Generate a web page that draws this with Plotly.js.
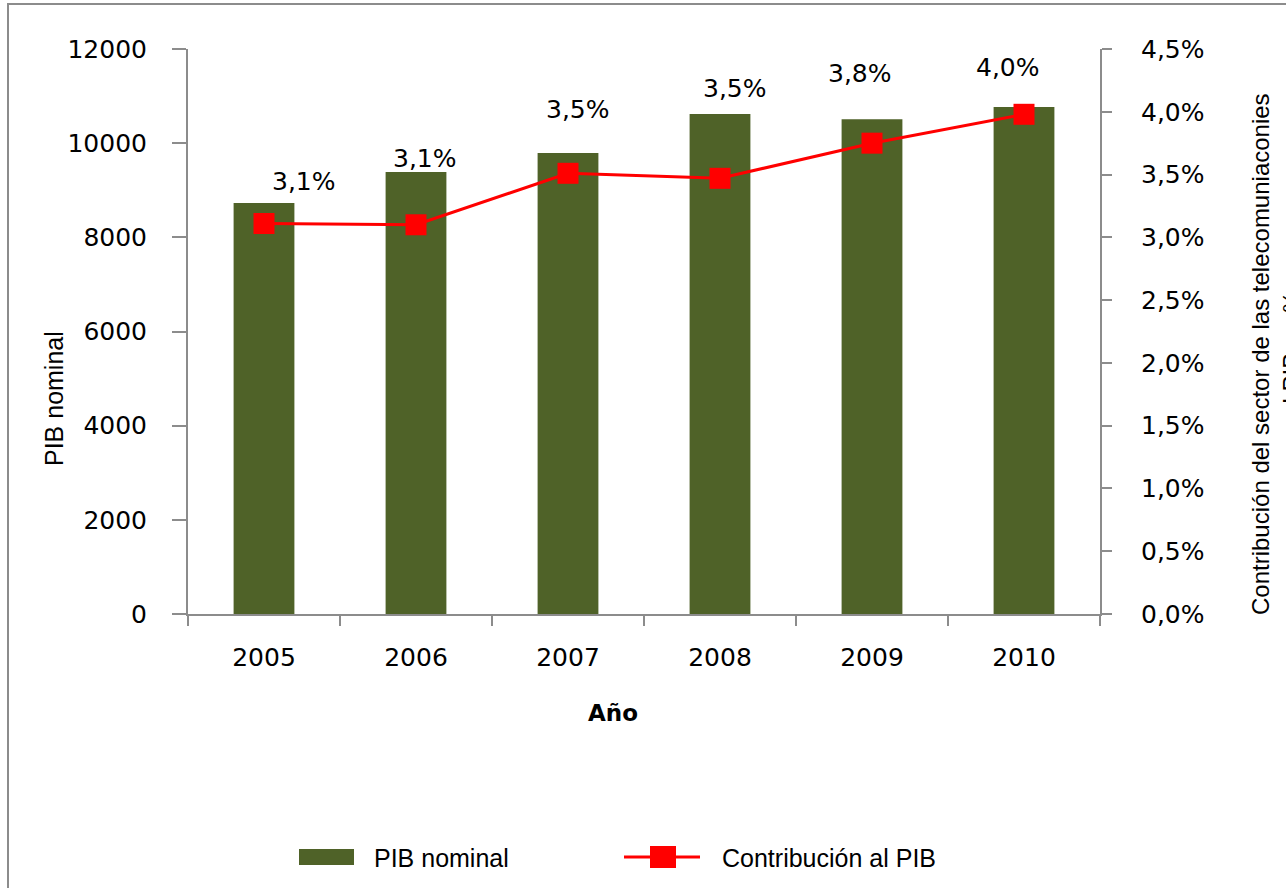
<!DOCTYPE html>
<html>
<head>
<meta charset="utf-8">
<script src="https://cdn.plot.ly/plotly-3.0.1.min.js"></script>
<style>
  html, body { margin: 0; padding: 0; background: #ffffff; }
  #chart { width: 1286px; height: 888px; }
</style>
</head>
<body>
<div id="chart"></div>
<script>
// ---- data ----
const years = ['2005', '2006', '2007', '2008', '2009', '2010'];
const pibNominal = [8730, 9390, 9790, 10620, 10510, 10770];
const contribucion = [3.11, 3.10, 3.51, 3.47, 3.75, 3.98];
const contribLabels = ['3,1%', '3,1%', '3,5%', '3,5%', '3,8%', '4,0%'];
const seriesNames = ['PIB nominal', 'Contribución al PIB'];

// label offsets (pixels) for the data labels, styling only
const labelDx = [40, 9, 10, 15, -12, -16];
const labelDy = [42, 66, 64, 90, 70, 47];

const FONT = 'DejaVu Sans, Verdana, sans-serif';
const TFONT = 'Liberation Sans, Arial, sans-serif';
const AX = '#8c8c8c';
const GREEN = '#4F6228';
const RED = '#FF0000';

// plot area in pixels: left 188, right 1100, top 49, bottom 614
const L = 188, R = 1100, T = 49, B = 614;
const px = v => (v - L) / (R - L);
const py = v => (B - v) / (B - T);

const traces = [
  {
    type: 'bar',
    name: seriesNames[0],
    x: years,
    y: pibNominal,
    marker: { color: GREEN, line: { width: 0 } },
    width: 0.4,
    yaxis: 'y',
    showlegend: false
  },
  {
    type: 'scatter',
    mode: 'lines+markers',
    name: seriesNames[1],
    x: years,
    y: contribucion,
    yaxis: 'y2',
    line: { color: RED, width: 3 },
    marker: { symbol: 'square', size: 21, color: RED },
    showlegend: false
  }
];

const annotations = years.map((yr, i) => ({
  x: i, y: contribucion[i], xref: 'x', yref: 'y2',
  text: contribLabels[i], showarrow: false,
  xanchor: 'center', yanchor: 'middle',
  xshift: labelDx[i], yshift: labelDy[i],
  font: { family: FONT, size: 25, color: '#000000' }
}));

// axis titles
annotations.push({
  xref: 'paper', yref: 'paper', x: px(54), y: py(399),
  text: 'PIB nominal', textangle: -90, showarrow: false,
  xanchor: 'center', yanchor: 'middle',
  font: { family: TFONT, size: 25, color: '#000000' }
});
annotations.push({
  xref: 'paper', yref: 'paper', x: px(1276), y: py(354),
  text: 'Contribución del sector de las telecomuniaconies<br>al PIB en %', textangle: -90, showarrow: false,
  xanchor: 'center', yanchor: 'middle',
  font: { family: TFONT, size: 24, color: '#000000' }
});
annotations.push({
  xref: 'paper', yref: 'paper', x: px(613), y: py(713),
  text: '<b>Año</b>', showarrow: false,
  xanchor: 'center', yanchor: 'middle',
  font: { family: FONT, size: 23, color: '#000000' }
});
// legend texts
annotations.push({
  xref: 'paper', yref: 'paper', x: px(372), y: py(858),
  text: seriesNames[0], showarrow: false,
  xanchor: 'left', yanchor: 'middle',
  font: { family: TFONT, size: 25, color: '#000000' }
});
annotations.push({
  xref: 'paper', yref: 'paper', x: px(720), y: py(858),
  text: seriesNames[1], showarrow: false,
  xanchor: 'left', yanchor: 'middle',
  font: { family: TFONT, size: 25, color: '#000000' }
});

const shapes = [
  // outer frame
  {
    type: 'rect', xref: 'paper', yref: 'paper',
    x0: px(8), x1: px(1400), y0: py(1000), y1: py(4),
    line: { color: AX, width: 2 }, fillcolor: 'rgba(0,0,0,0)', layer: 'below'
  },
  // legend swatch (bars)
  {
    type: 'rect', xref: 'paper', yref: 'paper',
    x0: px(299), x1: px(354), y0: py(865), y1: py(849),
    line: { width: 0 }, fillcolor: GREEN
  },
  // legend line
  {
    type: 'line', xref: 'paper', yref: 'paper',
    x0: px(624), x1: px(700), y0: py(857), y1: py(857),
    line: { color: RED, width: 3 }
  },
  // legend marker
  {
    type: 'rect', xref: 'paper', yref: 'paper',
    x0: px(650), x1: px(676), y0: py(868), y1: py(846),
    line: { width: 0 }, fillcolor: RED
  }
];

const layout = {
  width: 1286, height: 888,
  margin: { l: L, r: 1286 - R, t: T, b: 888 - B, pad: 0 },
  paper_bgcolor: '#ffffff',
  plot_bgcolor: '#ffffff',
  separators: ',.',
  showlegend: false,
  font: { family: FONT, color: '#000000' },
  xaxis: {
    type: 'category',
    range: [-0.5, years.length - 0.5],
    showline: true, linecolor: AX, linewidth: 2,
    ticks: 'outside', tickson: 'boundaries', ticklen: 10, tickcolor: AX, tickwidth: 2,
    tickfont: { family: FONT, size: 25, color: '#000000' },
    tickangle: 0,
    ticklabelstandoff: 20,
    showgrid: false, zeroline: false
  },
  yaxis: {
    range: [0, 12000], dtick: 2000, tickformat: 'd',
    showline: true, linecolor: AX, linewidth: 2,
    ticks: 'outside', ticklen: 14, tickcolor: AX, tickwidth: 2,
    tickfont: { family: FONT, size: 25, color: '#000000' },
    ticklabelstandoff: 20,
    showgrid: false, zeroline: false
  },
  yaxis2: {
    range: [0, 4.5], dtick: 0.5, tickformat: '.1f', ticksuffix: '%',
    overlaying: 'y', side: 'right',
    showline: true, linecolor: AX, linewidth: 2,
    ticks: 'outside', ticklen: 10, tickcolor: AX, tickwidth: 2,
    tickfont: { family: FONT, size: 25, color: '#000000' },
    ticklabelstandoff: 24,
    showgrid: false, zeroline: false
  },
  annotations: annotations,
  shapes: shapes
};

Plotly.newPlot('chart', traces, layout, { displayModeBar: false, staticPlot: true });
</script>
</body>
</html>
